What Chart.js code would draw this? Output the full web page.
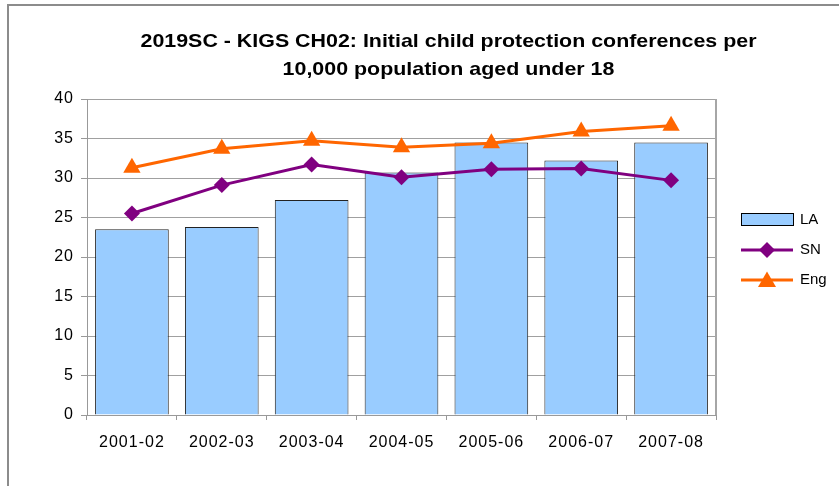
<!DOCTYPE html>
<html>
<head>
<meta charset="utf-8">
<script src="https://cdn.jsdelivr.net/npm/chart.js@4/dist/chart.umd.min.js"></script>
<style>
html,body{margin:0;padding:0;background:#fff;}
canvas{display:block;}
</style>
</head>
<body>
<canvas id="c" width="839" height="486"></canvas>
<script>
const categories = ['2001-02','2002-03','2003-04','2004-05','2005-06','2006-07','2007-08'];
const laValues  = [23.5, 23.8, 27.2, 30.7, 34.5, 32.2, 34.5];
const snValues  = [25.5, 29.1, 31.7, 30.1, 31.1, 31.2, 29.7];
const engValues = [31.3, 33.7, 34.7, 33.9, 34.4, 35.9, 36.6];
const titleLines = ['2019SC - KIGS CH02: Initial child protection conferences per', '10,000 population aged under 18'];
const seriesNames = ['LA', 'SN', 'Eng'];

const FONT = "'Liberation Sans', Arial, sans-serif";
const COL_BAR = '#99ccff', COL_SN = '#800080', COL_ENG = '#ff6600';
const AXIS_SPACING = '1px';

const canvas = document.getElementById('c');
const ctx0 = canvas.getContext('2d');
ctx0.letterSpacing = AXIS_SPACING;

const decor = {
  id: 'decor',
  beforeUpdate(chart) { chart.ctx.letterSpacing = AXIS_SPACING; },
  beforeDraw(chart) {
    const ctx = chart.ctx;
    ctx.letterSpacing = AXIS_SPACING;
    ctx.save();
    ctx.fillStyle = '#fff';
    ctx.fillRect(0, 0, chart.width, chart.height);
    ctx.strokeStyle = '#8c8c8c';
    ctx.lineWidth = 2;
    ctx.beginPath();
    ctx.moveTo(8, chart.height + 5);
    ctx.lineTo(8, 5);
    ctx.lineTo(chart.width + 5, 5);
    ctx.stroke();
    ctx.restore();
  },
  afterDraw(chart) {
    const ctx = chart.ctx;
    const a = chart.chartArea;
    ctx.save();
    ctx.letterSpacing = '0px';
    ctx.strokeStyle = '#a6a6a6';
    ctx.lineWidth = 2;
    ctx.beginPath();
    ctx.moveTo(a.right, a.top);
    ctx.lineTo(a.right, a.bottom);
    ctx.stroke();
    // title (horizontally stretched like the reference)
    ctx.fillStyle = '#000';
    ctx.font = 'bold 19px ' + FONT;
    ctx.textAlign = 'center';
    ctx.textBaseline = 'alphabetic';
    const w = ctx.measureText(titleLines[0]).width;
    const sx = 616 / w;
    ctx.save();
    ctx.translate(448.5, 0);
    ctx.scale(sx, 1);
    ctx.fillText(titleLines[0], 0, 47);
    ctx.fillText(titleLines[1], 0, 75);
    ctx.restore();
    // legend
    ctx.font = '15px ' + FONT;
    ctx.textAlign = 'left';
    ctx.textBaseline = 'middle';
    const lx0 = 741, lx1 = 793, tx = 800;
    ctx.fillStyle = COL_BAR;
    ctx.fillRect(lx0, 213, lx1 - lx0, 12);
    ctx.strokeStyle = '#000';
    ctx.lineWidth = 1;
    ctx.strokeRect(lx0 + 0.5, 213.5, lx1 - lx0, 12);
    ctx.fillStyle = '#000';
    ctx.fillText(seriesNames[0], tx, 220);
    ctx.strokeStyle = COL_SN; ctx.lineWidth = 3;
    ctx.beginPath(); ctx.moveTo(lx0, 250); ctx.lineTo(lx1, 250); ctx.stroke();
    ctx.fillStyle = COL_SN;
    ctx.beginPath();
    ctx.moveTo(767, 242); ctx.lineTo(775, 250); ctx.lineTo(767, 258); ctx.lineTo(759, 250); ctx.closePath(); ctx.fill();
    ctx.fillStyle = '#000';
    ctx.fillText(seriesNames[1], tx, 250);
    ctx.strokeStyle = COL_ENG; ctx.lineWidth = 3;
    ctx.beginPath(); ctx.moveTo(lx0, 280); ctx.lineTo(lx1, 280); ctx.stroke();
    ctx.fillStyle = COL_ENG;
    ctx.beginPath();
    ctx.moveTo(767, 271.5); ctx.lineTo(776, 287); ctx.lineTo(758, 287); ctx.closePath(); ctx.fill();
    ctx.fillStyle = '#000';
    ctx.fillText(seriesNames[2], tx, 280);
    ctx.restore();
  }
};

new Chart(canvas, {
  data: {
    labels: categories,
    datasets: [
      {
        type: 'line', label: seriesNames[2], data: engValues, order: 1,
        borderColor: COL_ENG, backgroundColor: COL_ENG, borderWidth: 3,
        pointStyle: 'triangle', pointRadius: 10, pointBorderWidth: 0,
        pointBackgroundColor: COL_ENG, tension: 0
      },
      {
        type: 'line', label: seriesNames[1], data: snValues, order: 2,
        borderColor: COL_SN, backgroundColor: COL_SN, borderWidth: 3,
        pointStyle: 'rectRot', pointRadius: 8, pointBorderWidth: 0,
        pointBackgroundColor: COL_SN, tension: 0
      },
      {
        type: 'bar', label: seriesNames[0], data: laValues, order: 3,
        backgroundColor: COL_BAR, borderColor: '#222', borderWidth: 1,
        categoryPercentage: 1.0, barPercentage: 0.82
      }
    ]
  },
  options: {
    responsive: false,
    animation: false,
    devicePixelRatio: 1,
    layout: { padding: { left: 0, right: 123, top: 99, bottom: 0 } },
    plugins: { legend: { display: false }, title: { display: false }, tooltip: { enabled: false } },
    scales: {
      x: {
        offset: true,
        grid: { offset: true, drawOnChartArea: false, drawTicks: true, tickLength: 5, color: '#999', tickColor: '#999' },
        border: { display: true, color: '#999', width: 1 },
        ticks: { color: '#000', font: { family: FONT, size: 16 }, padding: 13, maxRotation: 0, autoSkip: false },
        afterFit(s) { s.height = 71; }
      },
      y: {
        min: 0, max: 40,
        grid: { color: '#a0a0a0', lineWidth: 1, drawTicks: true, tickLength: 6, tickColor: '#999' },
        border: { display: true, color: '#999', width: 1 },
        ticks: { stepSize: 5, color: '#000', font: { family: FONT, size: 16 }, padding: 7 },
        afterFit(s) { s.width = 87; }
      }
    }
  },
  plugins: [decor]
});
</script>
</body>
</html>
